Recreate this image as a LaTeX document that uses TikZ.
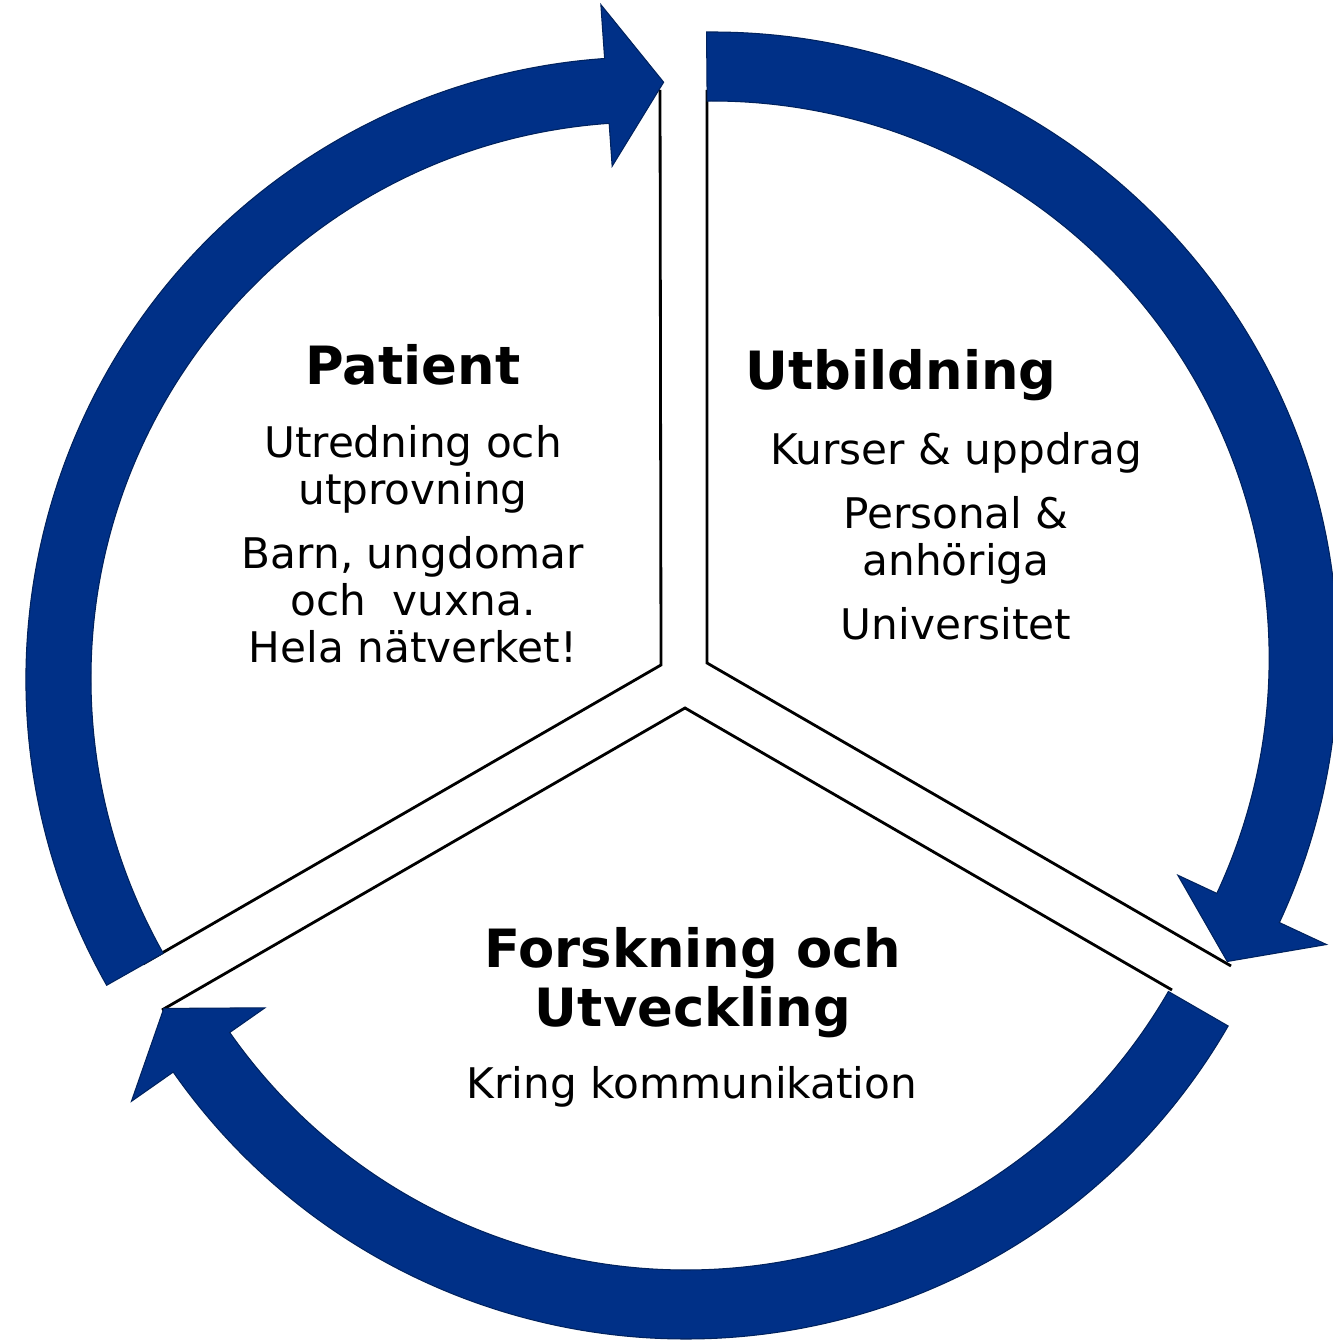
\documentclass[tikz,border=0pt]{standalone}
\usepackage{fontspec}
\setmainfont{DejaVu Sans}
\usetikzlibrary{positioning}
\definecolor{cycleblue}{RGB}{0,48,135}
\tikzset{band/.style={
        fill=cycleblue,
        draw=cycleblue!70!black,
        line width=0.3pt } }
\tikzset{divider/.style={
        draw=black,
        line width=0.8pt,
        line join=miter } }
\tikzset{headline/.style={
        font=\bfseries\fontsize{15}{16.8}\selectfont,
        align=center,
        inner sep=0pt } }
\tikzset{bodytext/.style={
        font=\fontsize{12}{13.4}\selectfont,
        align=center,
        inner sep=0pt } }

\begin{document}
\begin{tikzpicture}[x=0.01cm,y=0.01cm]
\useasboundingbox (0,0) rectangle (1332,1340);

% sector edges
\coordinate (pTop) at (660,1250);
\coordinate (pApex) at (661,675);
\coordinate (pFoot) at (143,376);
\coordinate (uTop) at (707,1250);
\coordinate (uApex) at (707,677);
\coordinate (uFoot) at (1231,374);
\coordinate (fLeft) at (162,330);
\coordinate (fApex) at (685,632);
\coordinate (fRight) at (1172,350);

\draw[divider] (pTop) -- (pApex) -- (pFoot);
\draw[divider] (uTop) -- (uApex) -- (uFoot);
\draw[divider] (fLeft) -- (fApex) -- (fRight);

% circular arrows
\begin{scope}[shift={(648,661)}]
\path[band] (209.5:622) arc[start angle=209.5, end angle=94, radius=622]
  -- (94:676) -- (88.5:597) -- (94:514) -- (94:557)
  arc[start angle=94, end angle=209.5, radius=557] -- cycle;
\end{scope}
\begin{scope}[shift={(712,682)}]
\path[band] (90.5:626) arc[start angle=90.5, end angle=-25, radius=626]
  -- (-25:678) -- (-30.5:598) -- (-25:514) -- (-25:557)
  arc[start angle=-25, end angle=90.5, radius=557] -- cycle;
\end{scope}
\begin{scope}[shift={(686,627)}]
\path[band] (-30:626) arc[start angle=-30, end angle=-145, radius=626]
  -- (-145:677) -- (-150.5:600) -- (-145:514) -- (-145:557)
  arc[start angle=-145, end angle=-30, radius=557] -- cycle;
\end{scope}

% texts (multi-line nodes sit on their last baseline)
\node[headline, anchor=base] (patient) at (413,955) {Patient};
\node[bodytext, anchor=base] (patientText) at (413,677)
  {Utredning och\\utprovning\\[4.8pt]Barn, ungdomar\\och~~vuxna.\\Hela nätverket!};

\node[headline, anchor=base] (utbildning) at (901,950) {Utbildning};
\node[bodytext, anchor=base] (utbildningText) at (956,700)
  {Kurser \& uppdrag\\[4.8pt]Personal \&\\anhöriga\\[4.8pt]Universitet};

\node[headline, anchor=base] (forskning) at (693,313) {Forskning och\\Utveckling};
\node[bodytext, anchor=base] (forskningText) at (692,241) {Kring kommunikation};
\end{tikzpicture}
\end{document}
